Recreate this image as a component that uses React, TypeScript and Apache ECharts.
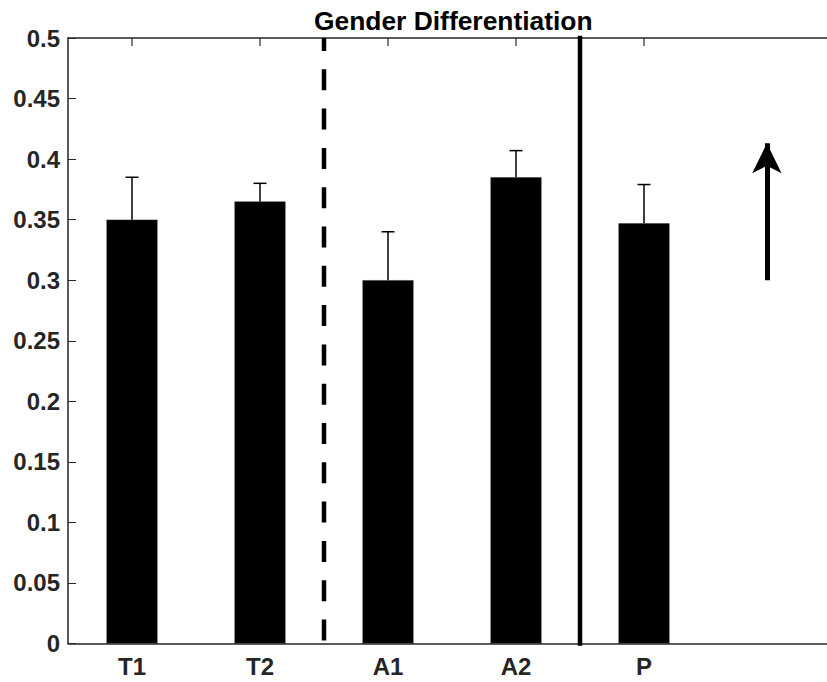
import React, { useEffect, useRef } from "react";
import * as echarts from "echarts";

const categories = ["T1", "T2", "A1", "A2", "P"];
const positions = [1, 2, 3, 4, 5];
const means = [0.35, 0.365, 0.3, 0.385, 0.347];
const upper = [0.385, 0.38, 0.34, 0.407, 0.379];
const yTicks = [0, 0.05, 0.1, 0.15, 0.2, 0.25, 0.3, 0.35, 0.4, 0.45, 0.5];
const dashedX = 2.5;
const solidX = 4.5;
const arrowX = 5.96;
const arrowFrom = 0.3;
const arrowTo = 0.413;
const titleText = "Gender Differentiation";

const FONT = "'Liberation Sans', Arial, Helvetica, sans-serif";
const AX = "#262626";

export default function App() {
  const ref = useRef<HTMLDivElement>(null);
  useEffect(() => {
    if (!ref.current) return;
    const chart = echarts.init(ref.current, undefined, { renderer: "svg" });
    const barData = positions.map((p, i) => [p, means[i]]);
    const errData = positions.map((p, i) => [p, means[i], upper[i]]);
    const tickData = positions.map((p) => [p, 0.5]);
    chart.setOption({
      animation: false,
      backgroundColor: "#fff",
      title: {
        text: titleText,
        left: 309,
        top: 2,
        textStyle: { fontFamily: FONT, fontSize: 26.4, fontWeight: "bold", color: "#000", lineHeight: 27 },
      },
      grid: { left: 68, width: 768, top: 38, bottom: 38.5, containLabel: false, outerBoundsMode: "none" },
      xAxis: [
        {
          type: "value",
          min: 0.5,
          max: 6.5,
          position: "bottom",
          splitLine: { show: false },
          axisLine: { show: true, lineStyle: { color: AX, width: 1.5 } },
          axisTick: { show: false },
          axisLabel: {
            show: true,
            customValues: positions,
            formatter: (v: number) => categories[positions.indexOf(v)] ?? "",
            fontFamily: FONT,
            fontSize: 24,
            fontWeight: "bold",
            color: AX,
            margin: 11,
          },
        },
        {
          type: "value",
          min: 0.5,
          max: 6.5,
          position: "top",
          splitLine: { show: false },
          axisLine: { show: true, lineStyle: { color: AX, width: 1.5 } },
          axisTick: { show: false },
          axisLabel: { show: false },
        },
      ],
      yAxis: {
        type: "value",
        min: 0,
        max: 0.5,
        interval: 0.05,
        splitLine: { show: false },
        axisLine: { show: true, lineStyle: { color: AX, width: 1.5 } },
        axisTick: { show: true, inside: true, length: 8, lineStyle: { color: AX } },
        axisLabel: {
          fontFamily: FONT,
          fontSize: 24,
          fontWeight: "bold",
          color: AX,
          margin: 8,
          formatter: (v: number) => {
            const t = yTicks.find((k) => Math.abs(k - v) < 1e-9);
            return t === undefined ? "" : String(t);
          },
        },
      },
      series: [
        {
          type: "custom",
          xAxisIndex: 0,
          data: tickData,
          z: 5,
          silent: true,
          clip: false,
          renderItem: (params: any, api: any) => {
            const x = api.value(0);
            const top = api.coord([x, api.value(1)]);
            return {
              type: "line",
              shape: { x1: top[0], y1: top[1], x2: top[0], y2: top[1] + 8 },
              style: { stroke: AX, lineWidth: 1.2 },
            };
          },
        },
        {
          type: "bar",
          xAxisIndex: 0,
          data: barData,
          barWidth: 51,
          z: 2,
          itemStyle: { color: "#000", borderColor: "#333", borderWidth: 0.5 },
          markLine: {
            silent: true,
            symbol: ["none", "arrow"],
            symbolSize: [22, 30],
            label: { show: false },
            lineStyle: { color: "#000", width: 5, type: "solid" },
            data: [[{ coord: [arrowX, arrowFrom] }, { coord: [arrowX, arrowTo] }]],
          },
        },
        {
          type: "custom",
          xAxisIndex: 0,
          data: errData,
          z: 3,
          renderItem: (params: any, api: any) => {
            const x = api.value(0);
            const lo = api.coord([x, api.value(1)]);
            const hi = api.coord([x, api.value(2)]);
            const half = 6.5;
            return {
              type: "group",
              children: [
                { type: "line", shape: { x1: lo[0], y1: lo[1], x2: hi[0], y2: hi[1] }, style: { stroke: "#000", lineWidth: 1.5 } },
                { type: "line", shape: { x1: hi[0] - half, y1: hi[1], x2: hi[0] + half, y2: hi[1] }, style: { stroke: "#000", lineWidth: 1.5 } },
              ],
            };
          },
        },
        {
          type: "line",
          xAxisIndex: 0,
          data: [[dashedX, 0.5], [dashedX, 0]],
          showSymbol: false,
          clip: false,
          z: 4,
          lineStyle: { color: "#000", width: 4.5, type: [21, 18.3], dashOffset: 8.3, cap: "butt" },
        },
        {
          type: "line",
          xAxisIndex: 0,
          data: [[solidX, 0.5], [solidX, 0]],
          showSymbol: false,
          clip: false,
          z: 4,
          lineStyle: { color: "#000", width: 4.5, type: "solid", cap: "square" },
        },
      ],
    });
    return () => chart.dispose();
  }, []);
  return <div ref={ref} style={{ width: 827, height: 682, position: "absolute", left: 0, top: 0 }} />;
}
